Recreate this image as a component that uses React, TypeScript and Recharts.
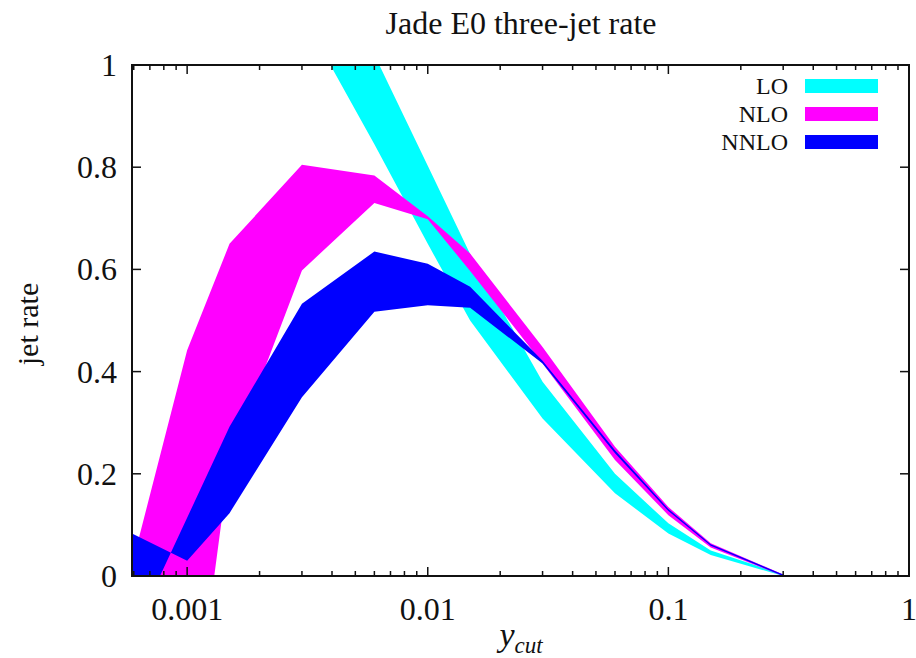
import React from 'react'
import { AreaChart, Area, XAxis, YAxis, ReferenceArea, Legend } from 'recharts'

// y_cut sample points (the first one sits left of the visible range)
const ycut = [0.0005, 0.001, 0.0015, 0.003, 0.006, 0.01, 0.015, 0.03, 0.06, 0.1, 0.15, 0.3]

// band edges (scale variation)
const loLow = [null, null, null, 1.1, 0.845, 0.65, 0.5, 0.308, 0.162, 0.083, 0.041, 0]
const loHigh = [null, null, null, 1.31, 1.02, 0.803, 0.63, 0.38, 0.2, 0.103, 0.05, 0.003]
const nloLow = [-0.9, -0.4, 0.225, 0.598, 0.73, 0.698, 0.597, 0.416, 0.227, 0.119, 0.056, 0]
const nloHigh = [-0.11, 0.442, 0.65, 0.805, 0.784, 0.704, 0.631, 0.448, 0.253, 0.135, 0.064, 0.003]
const nnloA = [0.1, 0.03, 0.123, 0.35, 0.517, 0.53, 0.525, 0.416, 0.24, 0.127, 0.059, 0]
const nnloB = [-0.19, 0.114, 0.292, 0.533, 0.635, 0.611, 0.566, 0.421, 0.246, 0.131, 0.062, 0.003]

const seriesNames = ['LO', 'NLO', 'NNLO']
const seriesColors = ['#00ffff', '#ff00ff', '#0000ff']

const xMajor = [0.001, 0.01, 0.1, 1]
const yTicks = [0, 0.2, 0.4, 0.6, 0.8, 1]
const X_MIN = 0.00059

const xMinor: number[] = []
for (let k = -4; k <= -1; k++) {
  for (let m = 2; m <= 9; m++) {
    const v = m * Math.pow(10, k)
    if (v > X_MIN && v < 1) xMinor.push(v)
  }
}
const xTicks = [...xMajor, ...xMinor].sort((a, b) => a - b)

const W = 916
const H = 658
const PLOT_LEFT = 132
const PLOT_RIGHT = 909
const PLOT_TOP = 65
const PLOT_BOTTOM = 576
const FONT = '"Liberation Serif", "DejaVu Serif", serif'
const INK = '#111'

const rows = ycut.map((x, i) => ({
  ycut: x,
  lo: loLow[i] == null ? null : [loLow[i], loHigh[i]],
  nlo: [nloLow[i], nloHigh[i]],
  nnlo: [nnloA[i], nnloB[i]],
}))

const XTick = (props: any) => {
  const { x, payload } = props
  const v = payload.value
  const major = xMajor.some(m => Math.abs(m - v) < 1e-12)
  const len = major ? 9 : 5
  return (
    <g>
      <line x1={x} x2={x} y1={PLOT_BOTTOM} y2={PLOT_BOTTOM - len} stroke={INK} strokeWidth={1.5} />
      <line x1={x} x2={x} y1={PLOT_TOP} y2={PLOT_TOP + len} stroke={INK} strokeWidth={1.5} />
      {major && (
        <text x={x} y={620} textAnchor="middle" fontFamily={FONT} fontSize={32} fill={INK}>
          {String(v)}
        </text>
      )}
    </g>
  )
}

const YTick = (props: any) => {
  const { y, payload } = props
  return (
    <g>
      <line x1={PLOT_LEFT} x2={PLOT_LEFT + 9} y1={y} y2={y} stroke={INK} strokeWidth={1.5} />
      <line x1={PLOT_RIGHT} x2={PLOT_RIGHT - 9} y1={y} y2={y} stroke={INK} strokeWidth={1.5} />
      <text x={117} y={y + 11} textAnchor="end" fontFamily={FONT} fontSize={32} fill={INK}>
        {String(payload.value)}
      </text>
    </g>
  )
}

const KeyBox = () => (
  <svg width={230} height={110} style={{ display: 'block' }}>
    {seriesNames.map((name, i) => {
      const base = 33 + i * 28
      return (
        <g key={name}>
          <text x={108} y={base} textAnchor="end" fontFamily={FONT} fontSize={24} fill={INK}>
            {name}
          </text>
          <rect x={125} y={base - 15} width={73} height={14} fill={seriesColors[i]} />
        </g>
      )
    })}
  </svg>
)

export default function App() {
  return (
    <div style={{ position: 'absolute', left: 0, top: 0, width: W, height: H, background: '#fff' }}>
      <AreaChart
        width={W}
        height={H}
        data={rows}
        margin={{ top: PLOT_TOP, right: W - PLOT_RIGHT, bottom: H - PLOT_BOTTOM - 40, left: PLOT_LEFT - 60 }}
      >
        <XAxis
          dataKey="ycut"
          type="number"
          scale="log"
          domain={[X_MIN, 1]}
          allowDataOverflow
          ticks={xTicks}
          interval={0}
          height={40}
          axisLine={false}
          tickLine={false}
          tick={XTick}
        />
        <YAxis
          type="number"
          domain={[0, 1]}
          allowDataOverflow
          ticks={yTicks}
          interval={0}
          width={60}
          axisLine={false}
          tickLine={false}
          tick={YTick}
        />
        <Area type="linear" dataKey="lo" stroke="none" fill={seriesColors[0]} fillOpacity={1} dot={false} activeDot={false} isAnimationActive={false} />
        <Area type="linear" dataKey="nlo" stroke="none" fill={seriesColors[1]} fillOpacity={1} dot={false} activeDot={false} isAnimationActive={false} />
        <Area type="linear" dataKey="nnlo" stroke="none" fill={seriesColors[2]} fillOpacity={1} dot={false} activeDot={false} isAnimationActive={false} />
        <ReferenceArea x1={X_MIN} x2={1} y1={0} y2={1} fill="none" stroke={INK} strokeWidth={2} fillOpacity={0} />
        <Legend
          layout="vertical"
          align="center"
          verticalAlign="middle"
          content={KeyBox}
          wrapperStyle={{ position: 'absolute', left: 680, top: 61, width: 230, height: 110 }}
        />
      </AreaChart>
      <svg width={W} height={H} style={{ position: 'absolute', left: 0, top: 0, pointerEvents: 'none' }}>
        <text x={521} y={34} textAnchor="middle" fontFamily={FONT} fontSize={32} fill={INK}>
          Jade E0 three-jet rate
        </text>
        <text x={38} y={324} transform="rotate(-90 38 324)" textAnchor="middle" fontFamily={FONT} fontSize={30} fill={INK}>
          jet rate
        </text>
        <text x={521} y={646} textAnchor="middle" fontFamily={FONT} fill={INK}>
          <tspan fontSize={34} fontStyle="italic">y</tspan>
          <tspan fontSize={23} fontStyle="italic" dy={7}>cut</tspan>
        </text>
      </svg>
    </div>
  )
}
